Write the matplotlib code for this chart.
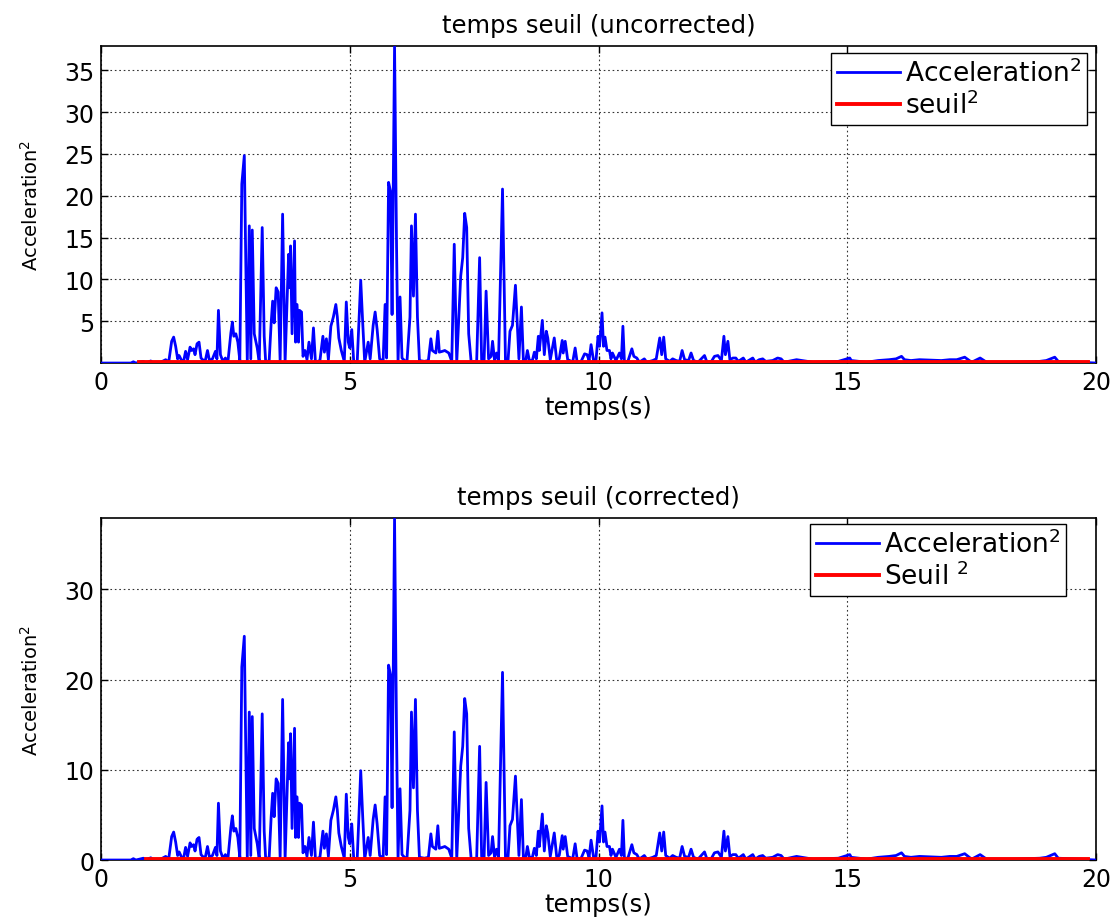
import matplotlib
matplotlib.use("Agg")
import matplotlib.pyplot as plt

plt.rcParams['font.family'] = ['DejaVu Sans']
plt.rcParams['mathtext.fontset'] = 'dejavusans'

# ---- data: time (s) and squared acceleration ----
temps = [
    0.00, 0.60, 0.65, 0.70, 0.85, 0.90, 1.00, 1.05, 1.20, 1.30, 1.36, 1.42, 1.46, 1.50, 1.54,
    1.57, 1.62, 1.66, 1.70, 1.74, 1.79, 1.82, 1.86, 1.89, 1.93, 1.97, 2.01, 2.06, 2.10, 2.14,
    2.18, 2.24, 2.30, 2.33, 2.36, 2.40, 2.45, 2.50, 2.55, 2.61, 2.64, 2.67, 2.71, 2.75, 2.79,
    2.83, 2.88, 2.91, 2.94, 2.98, 3.01, 3.04, 3.08, 3.14, 3.18, 3.24, 3.28, 3.31, 3.38, 3.42,
    3.45, 3.48, 3.52, 3.56, 3.60, 3.65, 3.70, 3.77, 3.79, 3.81, 3.84, 3.89, 3.91, 3.94, 3.97,
    3.99, 4.03, 4.06, 4.10, 4.14, 4.18, 4.23, 4.27, 4.31, 4.40, 4.46, 4.49, 4.53, 4.57, 4.62,
    4.67, 4.72, 4.75, 4.78, 4.83, 4.89, 4.93, 4.97, 5.00, 5.04, 5.08, 5.15, 5.22, 5.26, 5.30,
    5.37, 5.41, 5.47, 5.51, 5.55, 5.60, 5.67, 5.71, 5.74, 5.78, 5.82, 5.85, 5.90, 5.94, 5.97,
    6.01, 6.05, 6.10, 6.15, 6.21, 6.24, 6.28, 6.32, 6.36, 6.40, 6.50, 6.58, 6.63, 6.66, 6.73,
    6.77, 6.80, 6.86, 6.91, 6.99, 7.05, 7.10, 7.15, 7.23, 7.27, 7.31, 7.35, 7.39, 7.44, 7.50,
    7.55, 7.61, 7.65, 7.70, 7.74, 7.79, 7.84, 7.87, 7.91, 7.95, 7.99, 8.07, 8.13, 8.18, 8.22,
    8.27, 8.33, 8.40, 8.45, 8.49, 8.54, 8.57, 8.61, 8.67, 8.71, 8.75, 8.79, 8.81, 8.87, 8.91,
    8.95, 8.98, 9.03, 9.11, 9.16, 9.21, 9.27, 9.29, 9.33, 9.38, 9.42, 9.48, 9.53, 9.57, 9.65,
    9.72, 9.77, 9.81, 9.85, 9.90, 9.95, 9.99, 10.02, 10.07, 10.10, 10.13, 10.17, 10.22, 10.25, 10.28,
    10.35, 10.42, 10.46, 10.49, 10.52, 10.59, 10.67, 10.71, 10.77, 10.82, 10.92, 10.97, 11.09, 11.16, 11.23,
    11.27, 11.31, 11.35, 11.43, 11.49, 11.56, 11.63, 11.68, 11.73, 11.81, 11.86, 11.91, 12.00, 12.13, 12.18,
    12.27, 12.33, 12.40, 12.47, 12.52, 12.55, 12.60, 12.64, 12.70, 12.76, 12.81, 12.91, 12.96, 13.10, 13.15,
    13.23, 13.30, 13.36, 13.50, 13.60, 13.67, 13.73, 13.98, 14.31, 14.82, 15.05, 15.08, 15.39, 15.62, 15.84,
    15.98, 16.09, 16.15, 16.28, 16.45, 16.89, 17.06, 17.20, 17.36, 17.50, 17.67, 17.80, 18.33, 18.87, 19.00,
    19.17, 19.24, 19.67, 20.00,
]
acceleration2 = [
    0.0, 0.0, 0.15, 0.0, 0.2, 0.0, 0.25, 0.0, 0.1, 0.4, 0.1, 2.6, 3.1, 2.0, 0.5,
    0.9, 0.3, 0.2, 1.4, 0.4, 1.9, 1.5, 1.7, 1.0, 2.3, 2.5, 0.6, 0.3, 0.4, 1.5,
    0.3, 0.5, 1.4, 0.5, 6.3, 1.0, 0.2, 0.6, 0.1, 3.6, 4.9, 3.2, 3.5, 2.5, 0.3,
    21.4, 24.8, 12.0, 0.2, 16.4, 0.5, 15.9, 3.5, 1.8, 0.1, 16.2, 3.2, 0.1, 0.3, 4.8,
    7.4, 4.8, 9.0, 8.5, 0.3, 17.8, 0.1, 13.0, 9.0, 14.0, 3.5, 14.6, 2.5, 7.0, 2.5,
    6.3, 6.1, 0.8, 1.5, 0.4, 2.5, 0.5, 4.2, 0.1, 0.3, 3.2, 1.3, 2.9, 0.4, 4.4,
    5.5, 7.0, 5.5, 3.0, 1.5, 0.2, 7.3, 2.5, 1.8, 4.0, 0.1, 0.2, 9.9, 4.8, 0.1,
    2.5, 0.5, 4.5, 6.1, 4.0, 0.5, 0.2, 7.0, 0.6, 21.6, 20.5, 5.8, 37.9, 14.0, 0.2,
    7.9, 0.6, 0.3, 0.2, 5.5, 16.4, 8.0, 17.8, 5.5, 0.3, 0.2, 0.3, 2.9, 1.5, 1.2,
    3.8, 1.3, 1.4, 1.5, 1.2, 0.2, 14.2, 0.1, 10.4, 12.6, 17.9, 16.2, 3.5, 0.1, 0.2,
    0.1, 12.6, 0.4, 0.3, 8.6, 0.5, 0.8, 2.6, 0.3, 1.2, 0.3, 20.8, 0.1, 0.2, 3.8,
    4.5, 9.3, 0.5, 6.7, 0.2, 0.4, 1.5, 0.3, 0.3, 1.3, 0.5, 3.2, 1.5, 5.1, 1.0,
    3.8, 3.0, 0.4, 3.0, 0.3, 0.5, 2.7, 1.2, 2.6, 0.4, 0.3, 0.1, 1.8, 0.1, 0.2,
    1.1, 1.0, 0.3, 2.2, 0.3, 0.4, 3.2, 2.0, 6.0, 2.0, 3.1, 1.5, 1.5, 0.5, 1.2,
    0.3, 1.2, 0.5, 4.4, 0.2, 0.2, 1.7, 0.8, 0.6, 0.1, 0.5, 0.1, 0.3, 0.5, 3.0,
    1.0, 3.1, 0.5, 0.2, 0.5, 0.3, 0.2, 1.5, 0.4, 0.3, 1.2, 0.3, 0.1, 0.9, 0.1,
    0.2, 0.8, 0.9, 0.3, 3.2, 1.0, 2.6, 0.4, 0.6, 0.6, 0.2, 0.6, 0.1, 0.6, 0.1,
    0.4, 0.5, 0.2, 0.3, 0.6, 0.5, 0.1, 0.4, 0.1, 0.2, 0.6, 0.3, 0.1, 0.3, 0.4,
    0.5, 0.8, 0.4, 0.3, 0.4, 0.3, 0.4, 0.4, 0.7, 0.1, 0.6, 0.1, 0.1, 0.2, 0.3,
    0.7, 0.2, 0.1, 0.0,
]

seuil_value = 0.15
seuil_span_uncorrected = [0.76, 19.84]
seuil_span_corrected = [0.90, 19.84]

titles = ["temps seuil (uncorrected)", "temps seuil (corrected)"]
legend_labels = [["Acceleration$^2$", "seuil$^2$"], ["Acceleration$^2$", "Seuil $^2$"]]
yticks_top = [5, 10, 15, 20, 25, 30, 35]
yticks_bottom = [0, 10, 20, 30]
xticks = [0, 5, 10, 15, 20]

fig = plt.figure(figsize=(11.15, 9.2), dpi=100)
ax1 = fig.add_axes([0.0906, 0.6043, 0.8924, 0.3446])
ax2 = fig.add_axes([0.0906, 0.0641, 0.8924, 0.3717])

ymax = max(acceleration2)
configs = [
    (ax1, seuil_span_uncorrected, yticks_top, (0.991, 0.978)),
    (ax2, seuil_span_corrected, yticks_bottom, (0.970, 0.982)),
]
for i, (ax, span, yt, anchor) in enumerate(configs):
    l1, = ax.plot(temps, acceleration2, color='#0000ff', lw=2.0, zorder=3)
    l2, = ax.plot(span, [seuil_value, seuil_value], color='#ff0000', lw=2.8, zorder=4)
    ax.set_xlim(0, 20)
    ax.set_ylim(0, ymax)
    ax.set_xticks(xticks)
    ax.set_yticks(yt)
    ax.tick_params(direction='in', top=True, right=True, labelsize=17, length=5, width=1, pad=5)
    ax.grid(True, color='black', linestyle=(0, (1.5, 2.5)), linewidth=0.8, alpha=0.8)
    for s in ax.spines.values():
        s.set_linewidth(1.2)
    ax.set_title(titles[i], fontsize=17.5, pad=10)
    ax.set_xlabel("temps(s)", fontsize=17.5, labelpad=1)
    ax.set_ylabel("Acceleration$^2$", fontsize=14, labelpad=16)
    leg = ax.legend([l1, l2], legend_labels[i], loc='upper right', bbox_to_anchor=anchor,
                    fontsize=19, frameon=True, fancybox=False, framealpha=1, edgecolor='black',
                    handlelength=2.4, borderpad=0.2, labelspacing=0.15, handletextpad=0.2,
                    borderaxespad=0)
    leg.get_frame().set_linewidth(1.0)

fig.savefig("out.png", dpi=100)
